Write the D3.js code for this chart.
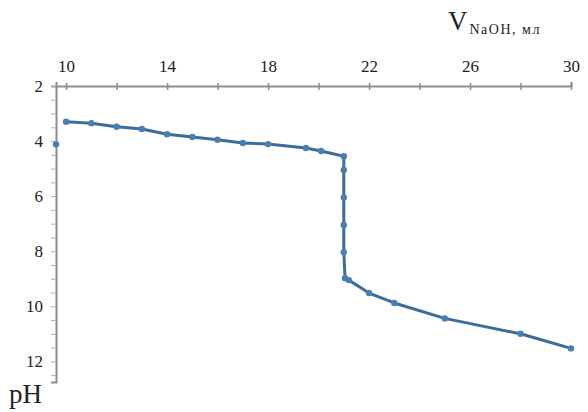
<!DOCTYPE html>
<html>
<head>
<meta charset="utf-8">
<script src="https://cdn.jsdelivr.net/npm/d3@7"></script>
<style>
  body { margin: 0; background: #fff; }
  text { font-family: "Liberation Serif", "DejaVu Serif", serif; }
</style>
</head>
<body>
<div id="chart"></div>
<script>
// titration curve, volume of NaOH (ml) vs pH
var volume = [10, 11, 12, 13, 14, 15, 16, 17, 18, 19.5, 20.1, 21, 21, 21, 21, 21, 21.05, 21.2, 22, 23, 25, 28, 30];
var ph     = [3.3, 3.35, 3.48, 3.56, 3.75, 3.85, 3.95, 4.07, 4.11, 4.25, 4.36, 4.55, 5.05, 6.05, 7.05, 8.04, 8.98, 9.05, 9.52, 9.88, 10.44, 11.0, 11.53];
// first point sits on the axis, not joined to the line
var startVolume = [9.6];
var startPh = [4.12];
var xTickLabels = [10, 14, 18, 22, 26, 30];
var yTickLabels = [2, 4, 6, 8, 10, 12];

var width = 588, height = 412;
var margin = {top: 86, right: 17, bottom: 30, left: 56};

var svg = d3.select("#chart")
    .append("svg")
    .attr("width", width)
    .attr("height", height);

var x = d3.scaleLinear()
    .domain([9.6, 30])
    .range([margin.left, width - margin.right]);

var y = d3.scaleLinear()
    .domain([2, 12.75])
    .range([margin.top, height - margin.bottom]);

var axisColor = "#8c8c8c";

// x axis on top
var xAxis = svg.append("g")
    .attr("transform", "translate(0," + margin.top + ")")
    .call(d3.axisTop(x)
        .tickValues(d3.range(10, 31, 2))
        .tickSize(4)
        .tickFormat(d => xTickLabels.indexOf(d) >= 0 ? d : ""));
xAxis.select(".domain").attr("stroke", axisColor).attr("stroke-width", 2);
xAxis.selectAll(".tick line").attr("stroke", axisColor).attr("y2", 4).attr("y1", -3).attr("stroke-width", 1.5);
xAxis.selectAll(".tick text")
    .attr("y", -20)
    .attr("dy", "0.35em")
    .style("font-size", "17px")
    .style("fill", "#222");

// y axis, reversed pH
var yAxis = svg.append("g")
    .attr("transform", "translate(" + margin.left + ",0)")
    .call(d3.axisLeft(y)
        .tickValues(d3.range(2, 12.6, 0.5))
        .tickSize(5)
        .tickFormat(d => yTickLabels.indexOf(d) >= 0 ? d : ""));
yAxis.select(".domain").attr("stroke", axisColor).attr("stroke-width", 2);
yAxis.selectAll(".tick line").attr("stroke", "#b0b0b0").attr("stroke-width", 1);
yAxis.selectAll(".tick text")
    .attr("x", -13)
    .style("font-size", "17px")
    .style("fill", "#222");

var points = volume.map((v, i) => [v, ph[i]]);
var lineColor = "#3b6d9c";

svg.append("path")
    .datum(points)
    .attr("fill", "none")
    .attr("stroke", lineColor)
    .attr("stroke-width", 3)
    .attr("stroke-linejoin", "round")
    .attr("d", d3.line().x(d => x(d[0])).y(d => y(d[1])));

svg.append("g")
    .selectAll("circle")
    .data(points.concat(startVolume.map((v, i) => [v, startPh[i]])))
    .enter().append("circle")
    .attr("cx", d => x(d[0]))
    .attr("cy", d => y(d[1]))
    .attr("r", 3.2)
    .attr("fill", "#4a7fae");

// axis titles
var vTitle = svg.append("text")
    .attr("x", 448)
    .attr("y", 30)
    .style("fill", "#222");
vTitle.append("tspan")
    .style("font-size", "27px")
    .text("V");
vTitle.append("tspan")
    .attr("dy", 4)
    .attr("dx", 2)
    .style("font-size", "14px")
    .style("letter-spacing", "1.5px")
    .text("NaOH, мл");

svg.append("text")
    .attr("x", 9)
    .attr("y", 403)
    .style("font-size", "27px")
    .style("fill", "#222")
    .text("pH");
</script>
</body>
</html>
